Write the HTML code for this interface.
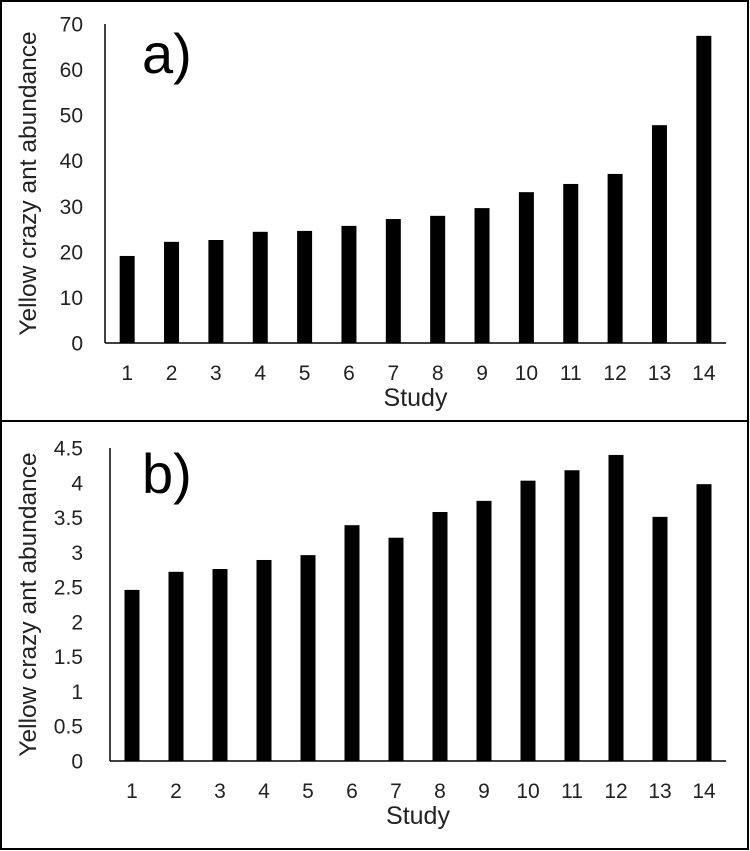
<!DOCTYPE html>
<html><head><meta charset="utf-8"><style>
html,body{margin:0;padding:0;background:#fff}
svg{display:block;font-family:"Liberation Sans",Arial,sans-serif}
</style></head><body>
<svg id="c" width="750" height="851" viewBox="0 0 750 851">
<rect x="1" y="1" width="747" height="420" fill="none" stroke="#000" stroke-width="2"/>
<rect x="1" y="421" width="747" height="428" fill="none" stroke="#000" stroke-width="2"/>
</svg>
<script>
const studies=[1,2,3,4,5,6,7,8,9,10,11,12,13,14];
const valuesA=[19.1,22.2,22.6,24.4,24.6,25.7,27.2,27.9,29.6,33.1,34.9,37.1,47.8,67.4];
const valuesB=[2.46,2.72,2.76,2.89,2.96,3.39,3.21,3.58,3.74,4.03,4.18,4.40,3.51,3.98];
const ticksA=[0,10,20,30,40,50,60,70];
const ticksB=[0,0.5,1,1.5,2,2.5,3,3.5,4,4.5];
const svg=document.getElementById('c');
const NS='http://www.w3.org/2000/svg';
function mk(t,a){const e=document.createElementNS(NS,t);for(const k in a)e.setAttribute(k,a[k]);svg.appendChild(e);return e;}
function panel(id,vals,ticks,ymax,x0,x1,yTop,yBot,label,labelY){
  const bw=(x1-x0)/studies.length;
  const y=v=>yBot-(v/ymax)*(yBot-yTop);
  const xc=i=>x0+bw*(i+0.5);
  let e=mk('line',{x1:x0,y1:yTop,x2:x0,y2:yBot,stroke:'#000','stroke-width':1.5});
  
  
  e=mk('line',{x1:x0,y1:yBot,x2:x1,y2:yBot,stroke:'#000','stroke-width':1.5});
  
  
  ticks.forEach(t=>{
    const tx=mk('text',{x:83,y:y(t)+7.5,'text-anchor':'end','font-size':21,fill:'#222'});
    tx.textContent=String(t);
    
    
  });
  vals.forEach((v,i)=>{
    const r=mk('rect',{x:xc(i)-7.5,y:y(v),width:15,height:yBot-y(v),fill:'#000'});
    
    
    const tx=mk('text',{x:xc(i),y:yBot+37,'text-anchor':'middle','font-size':21,fill:'#222'});
    tx.textContent=String(studies[i]);
    
    
  });
  let t=mk('text',{x:(x0+x1)/2,y:yBot+63,'text-anchor':'middle','font-size':25,fill:'#222'});
  t.textContent='Study';
  
  
  const cy=(yTop+yBot)/2;
  t=mk('text',{x:0,y:0,'text-anchor':'middle','font-size':24.5,fill:'#222',transform:'translate(36,'+cy+') rotate(-90)'});
  t.textContent='Yellow crazy ant abundance';
  
  
  t=mk('text',{x:142,y:labelY,'font-size':56,fill:'#000'});
  t.textContent=label;
  
  
}
panel('panel-a',valuesA,ticksA,70,105,726,24,343,'a)',73);
panel('panel-b',valuesB,ticksB,4.5,110,726,448,761,'b)',493);
</script>
</body></html>
